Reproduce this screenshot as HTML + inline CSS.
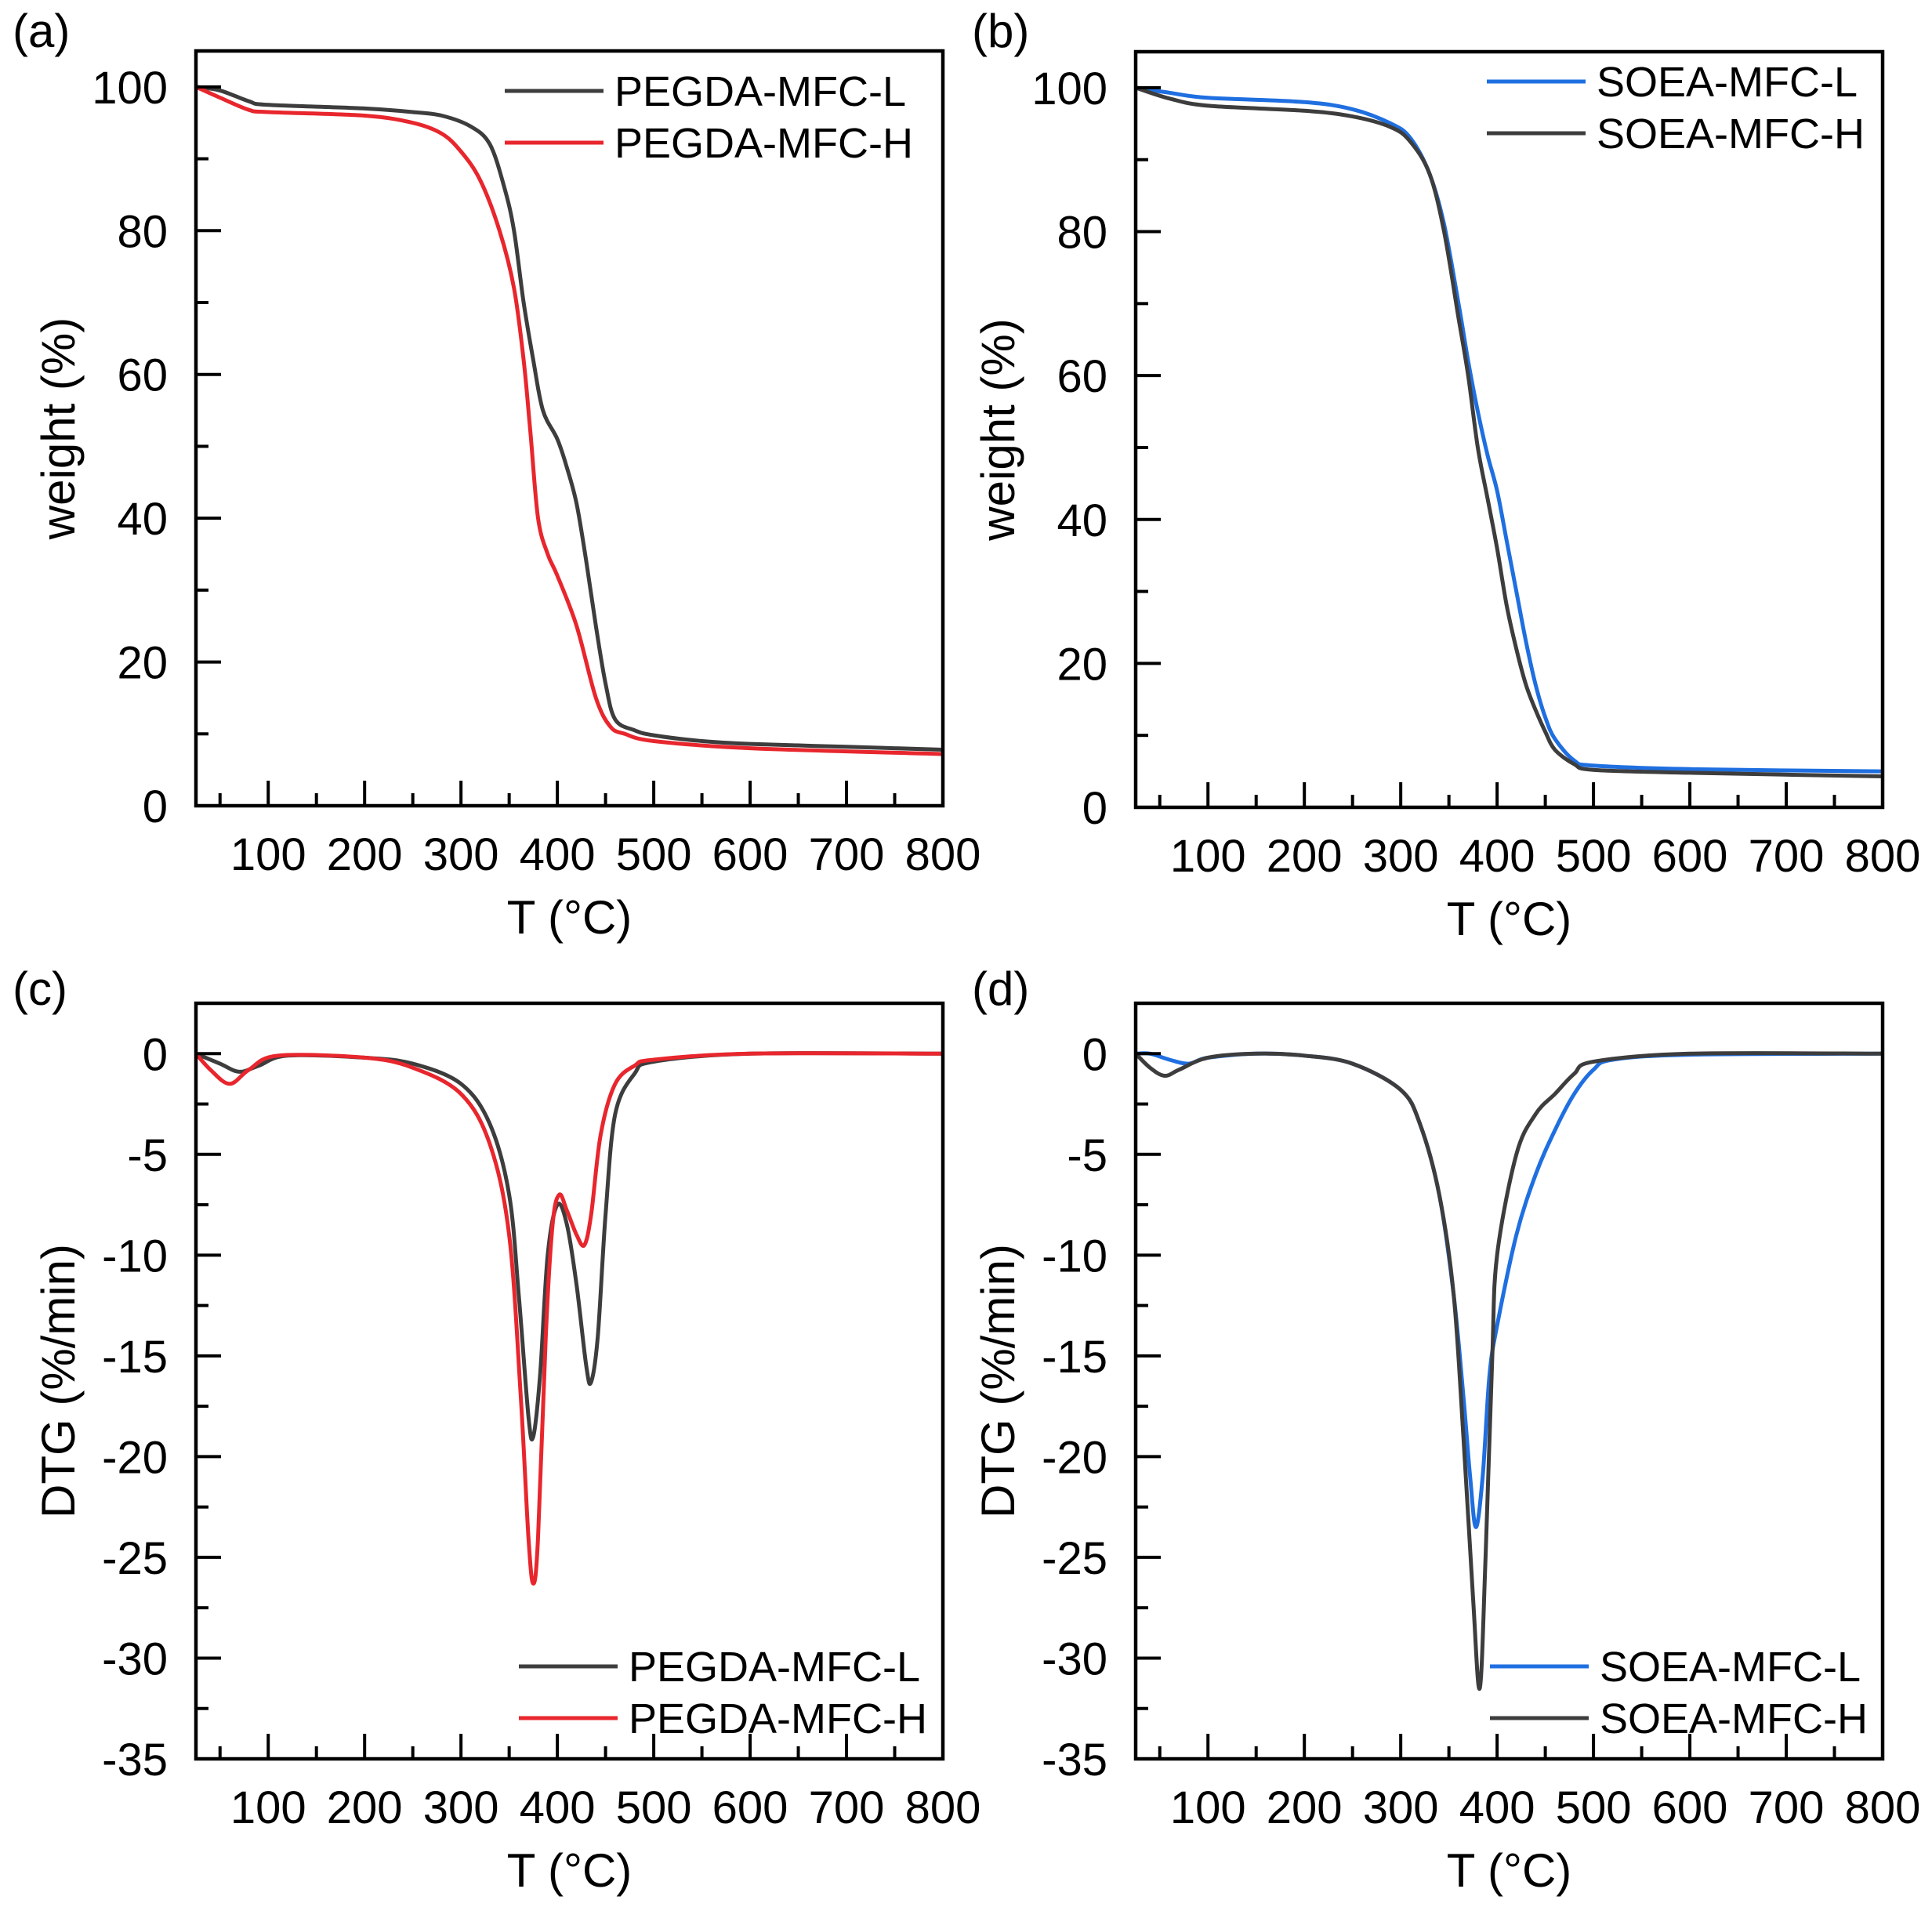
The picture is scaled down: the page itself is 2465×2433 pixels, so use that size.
<!DOCTYPE html>
<html><head><meta charset="utf-8"><style>
html,body{margin:0;padding:0;background:#fff;}
svg{display:block;font-family:"Liberation Sans",Arial,sans-serif;}
</style></head><body>
<svg id="s" width="2465" height="2433" viewBox="0 0 2465 2433" xmlns="http://www.w3.org/2000/svg">
<rect width="2465" height="2433" fill="#fff"/>
<text x="16" y="60" font-size="60">(a)</text>
<text x="1240" y="60" font-size="60">(b)</text>
<text x="16" y="1282" font-size="60">(c)</text>
<text x="1240" y="1282" font-size="60">(d)</text>
</svg>
<script>
const NS="http://www.w3.org/2000/svg",S=document.getElementById('s');
function el(t,a,txt){const e=document.createElementNS(NS,t);for(const k in a)e.setAttribute(k,a[k]);if(txt!==undefined)e.textContent=txt;S.appendChild(e);return e;}
const GRAY="#3d3d3d",RED="#e8262d",BLUE="#1f6fe0";
function panel(o){
 const L=o.L,R=o.L+953,T=o.T,B=o.B;
 const fx=v=>L+(v-25)/(800-25)*(R-L);
 const fy=v=>B-(v-o.ymin)/(o.ymax-o.ymin)*(B-T);
 o.series.forEach(s=>{
  const p=s.pts.map(q=>[fx(q[0]),fy(q[1])]);
  let d="M"+p[0][0].toFixed(1)+","+p[0][1].toFixed(1);
  for(let i=0;i<p.length-1;i++){
   const p0=p[Math.max(0,i-1)],p1=p[i],p2=p[i+1],p3=p[Math.min(p.length-1,i+2)];
   const c1=[p1[0]+(p2[0]-p0[0])/6,p1[1]+(p2[1]-p0[1])/6],c2=[p2[0]-(p3[0]-p1[0])/6,p2[1]-(p3[1]-p1[1])/6];
   d+="C"+c1.map(v=>v.toFixed(1))+" "+c2.map(v=>v.toFixed(1))+" "+p2.map(v=>v.toFixed(1));
  }
  el('path',{d:d,fill:'none',stroke:s.c,'stroke-width':5,'stroke-linejoin':'round'});
 });
 el('rect',{x:L,y:T,width:R-L,height:B-T,fill:'none',stroke:'#000','stroke-width':4.5});
 for(let v=50;v<800;v+=50){const x=fx(v),maj=v%100==0;el('line',{x1:x,x2:x,y1:B,y2:B-(maj?32:16),stroke:'#000','stroke-width':4});
  if(maj) el('text',{x:x,y:B+82,'font-size':58,'text-anchor':'middle'},String(v));}
 el('text',{x:R,y:B+82,'font-size':58,'text-anchor':'middle'},"800");
 for(let v=o.ymin;v<=o.ymax+1e-6;v+=o.minor){const y=fy(v),k=Math.round(v/o.minor),maj=k%2==0;
  if(v>o.ymin+1e-6) el('line',{x1:L,x2:L+(maj?32:16),y1:y,y2:y,stroke:'#000','stroke-width':4});
  if(maj) el('text',{x:L-36,y:y+21,'font-size':58,'text-anchor':'end'},String(Math.round(v)));}
 el('text',{x:(L+R)/2,y:B+163,'font-size':60,'text-anchor':'middle'},"T (°C)");
 el('text',{x:0,y:0,'font-size':60,'text-anchor':'middle',transform:`translate(${L-155},${(T+B)/2}) rotate(-90)`},o.ylab);
 o.leg.forEach((g,i)=>{const y=o.legY+i*(o.legDy);el('line',{x1:o.legX,x2:o.legX+126,y1:y,y2:y,stroke:g.c,'stroke-width':5});
  el('text',{x:o.legX+140,y:y+19,'font-size':54},g.t);});
}
panel({L:250,T:65,B:1028,ymin:0,ymax:105,minor:10,ylab:"weight (%)",legX:644,legY:116,legDy:66,
 leg:[{c:GRAY,t:"PEGDA-MFC-L"},{c:RED,t:"PEGDA-MFC-H"}],
 series:[
 {c:GRAY,pts:[[25,100],[50,99.5],[80,98],[100,97.5],[200,97],[250,96.5],[280,96],[310,94.5],[330,92],[345,86],[355,80],[365,70],[375,62],[385,55],[400,51],[410,47],[420,42],[430,34],[440,25],[450,17],[460,12],[480,10.5],[500,9.8],[550,9],[600,8.6],[700,8.2],[800,7.8]]},
 {c:RED,pts:[[25,100],[50,98.5],[80,96.8],[100,96.5],[200,96],[250,95],[280,93.5],[300,91],[320,87],[340,80],[355,72],[365,62],[372,52],[380,40],[390,35],[400,32],[420,25],[440,15],[455,11],[470,10],[500,9],[600,8],[800,7.2]]}]});
panel({L:1449,T:66,B:1030,ymin:0,ymax:105,minor:10,ylab:"weight (%)",legX:1897,legY:104,legDy:66,
 leg:[{c:BLUE,t:"SOEA-MFC-L"},{c:GRAY,t:"SOEA-MFC-H"}],
 series:[
 {c:BLUE,pts:[[25,100],[60,99.3],[100,98.6],[200,98],[250,97],[290,95],[310,93],[330,88],[345,81],[360,70],[370,62],[380,55],[390,49],[400,44],[410,37],[420,30],[430,23],[440,17],[450,12.5],[460,9.5],[480,6.5],[500,5.8],[600,5.3],[800,5]]},
 {c:GRAY,pts:[[25,100],[60,98.5],[100,97.5],[200,96.8],[250,96],[290,94.5],[310,92.5],[330,88],[345,80],[360,68],[370,60],[380,50],[390,43],[400,36],[410,28],[420,22],[430,17],[440,13.5],[450,10.5],[460,8],[480,6],[500,5.2],[600,4.8],[800,4.3]]}]});
panel({L:250,T:1280,B:2244,ymin:-35,ymax:2.5,minor:2.5,ylab:"DTG (%/min)",legX:662,legY:2126,legDy:66,
 leg:[{c:GRAY,t:"PEGDA-MFC-L"},{c:RED,t:"PEGDA-MFC-H"}],
 series:[
 {c:GRAY,pts:[[25,0],[50,-0.5],[70,-0.9],[90,-0.6],[120,-0.1],[200,-0.2],[250,-0.5],[300,-1.5],[330,-3.5],[350,-7],[360,-12],[370,-18],[375,-19],[382,-16],[390,-10],[400,-7.5],[410,-8.5],[420,-11.5],[430,-15.5],[435,-16.3],[442,-14],[450,-8],[460,-3],[480,-1],[500,-0.4],[600,0],[800,0]]},
 {c:RED,pts:[[25,0],[40,-0.8],[60,-1.5],[80,-0.8],[110,-0.1],[200,-0.2],[250,-0.7],[300,-2],[330,-4.5],[350,-9],[362,-17],[370,-24],[375,-26.3],[380,-24],[388,-14],[395,-8.5],[402,-7],[410,-7.8],[420,-9],[428,-9.5],[435,-8],[445,-4],[460,-1.5],[480,-0.6],[500,-0.3],[600,0],[800,0]]}]});
panel({L:1449,T:1280,B:2244,ymin:-35,ymax:2.5,minor:2.5,ylab:"DTG (%/min)",legX:1901,legY:2126,legDy:66,
 leg:[{c:BLUE,t:"SOEA-MFC-L"},{c:GRAY,t:"SOEA-MFC-H"}],
 series:[
 {c:BLUE,pts:[[25,0],[40,0],[60,-0.3],[80,-0.5],[100,-0.2],[150,0],[200,-0.1],[250,-0.5],[300,-1.8],[320,-3.5],[340,-7],[355,-12],[365,-17],[372,-21],[378,-23.5],[385,-21],[392,-16],[400,-13.5],[420,-9],[440,-6],[460,-3.8],[480,-2],[500,-0.8],[520,-0.3],[600,-0.05],[800,0]]},
 {c:GRAY,pts:[[25,0],[40,-0.7],[55,-1.1],[70,-0.8],[100,-0.2],[150,0],[200,-0.1],[250,-0.5],[300,-1.8],[320,-3.5],[340,-7],[355,-12],[365,-19],[375,-27],[382,-31.5],[388,-25],[395,-15],[400,-10],[420,-5],[440,-3],[460,-2],[480,-1],[500,-0.4],[600,0],[800,0]]}]});
</script>
</body></html>
